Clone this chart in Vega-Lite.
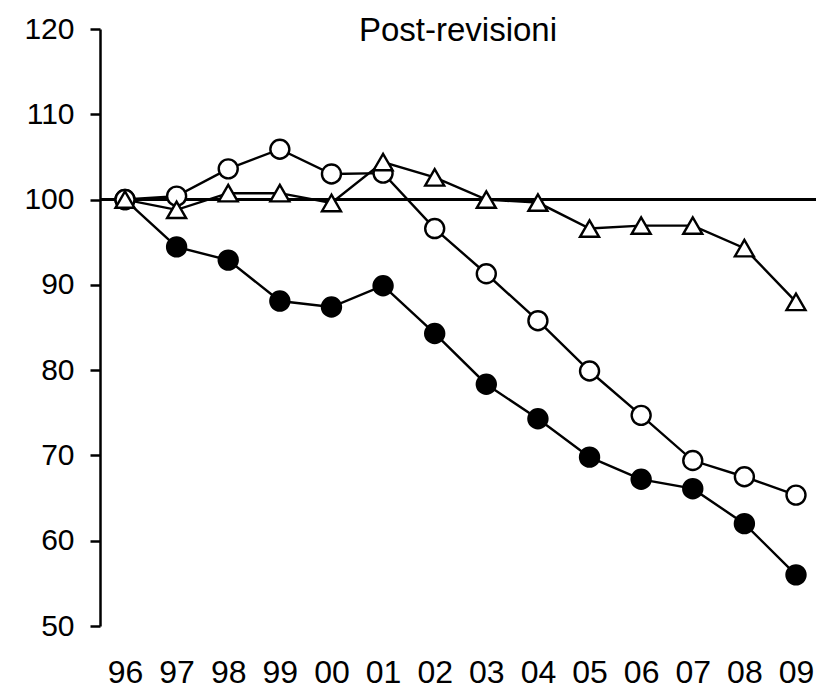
{
  "$schema": "https://vega.github.io/schema/vega-lite/v6.json",
  "width": 716,
  "height": 597,
  "autosize": {"type": "none"},
  "padding": {"left": 100, "top": 29, "right": 0, "bottom": 64},
  "background": "white",
  "config": {"view": {"stroke": null}, "font": "Liberation Sans"},
  "datasets": {
    "titles": [{"label": "Post-revisioni", "pos": 118.6}]
  },
  "data": {"values": [
    {"year": "96", "series": "filled", "value": 100},
    {"year": "97", "series": "filled", "value": 94.45},
    {"year": "98", "series": "filled", "value": 92.9},
    {"year": "99", "series": "filled", "value": 88.1},
    {"year": "00", "series": "filled", "value": 87.4},
    {"year": "01", "series": "filled", "value": 89.9},
    {"year": "02", "series": "filled", "value": 84.3},
    {"year": "03", "series": "filled", "value": 78.35},
    {"year": "04", "series": "filled", "value": 74.3},
    {"year": "05", "series": "filled", "value": 69.8},
    {"year": "06", "series": "filled", "value": 67.2},
    {"year": "07", "series": "filled", "value": 66.1},
    {"year": "08", "series": "filled", "value": 62.0},
    {"year": "09", "series": "filled", "value": 56.0},
    {"year": "96", "series": "open", "value": 100},
    {"year": "97", "series": "open", "value": 100.4},
    {"year": "98", "series": "open", "value": 103.6},
    {"year": "99", "series": "open", "value": 105.9},
    {"year": "00", "series": "open", "value": 103.0},
    {"year": "01", "series": "open", "value": 103.1},
    {"year": "02", "series": "open", "value": 96.6},
    {"year": "03", "series": "open", "value": 91.3},
    {"year": "04", "series": "open", "value": 85.8},
    {"year": "05", "series": "open", "value": 79.9},
    {"year": "06", "series": "open", "value": 74.7},
    {"year": "07", "series": "open", "value": 69.4},
    {"year": "08", "series": "open", "value": 67.5},
    {"year": "09", "series": "open", "value": 65.35},
    {"year": "96", "series": "triangle", "value": 100},
    {"year": "97", "series": "triangle", "value": 98.8},
    {"year": "98", "series": "triangle", "value": 100.75},
    {"year": "99", "series": "triangle", "value": 100.75},
    {"year": "00", "series": "triangle", "value": 99.6},
    {"year": "01", "series": "triangle", "value": 104.4},
    {"year": "02", "series": "triangle", "value": 102.6},
    {"year": "03", "series": "triangle", "value": 100.0},
    {"year": "04", "series": "triangle", "value": 99.65},
    {"year": "05", "series": "triangle", "value": 96.6},
    {"year": "06", "series": "triangle", "value": 96.95},
    {"year": "07", "series": "triangle", "value": 96.95},
    {"year": "08", "series": "triangle", "value": 94.3},
    {"year": "09", "series": "triangle", "value": 88.0}
  ]},
  "encoding": {
    "x": {"field": "year", "type": "ordinal",
      "scale": {"domain": ["96","97","98","99","00","01","02","03","04","05","06","07","08","09"], "range": [25, 696], "padding": 0},
      "axis": {"title": null, "domain": false, "ticks": false, "labelAngle": 0, "labelFontSize": 32, "labelFont": "Liberation Sans", "labelColor": "black", "labelPadding": 56, "labelBaseline": "alphabetic"}},
    "y": {"field": "value", "type": "quantitative",
      "scale": {"domain": [50, 120], "nice": false, "zero": false},
      "axis": {"title": null, "values": [50,60,70,80,90,100,110,120], "grid": false, "domainColor": "black", "domainWidth": 2.5, "tickColor": "black", "tickWidth": 2.5, "tickSize": 10, "labelFontSize": 30, "labelFont": "Liberation Sans", "labelColor": "black", "labelPadding": 16}}
  },
  "layer": [
    {"mark": {"type": "rule", "color": "black", "strokeWidth": 2.5},
     "encoding": {"x": null, "y": {"datum": 100, "type": "quantitative"}}},
    {"mark": {"type": "line", "color": "black", "strokeWidth": 2.4},
     "encoding": {"detail": {"field": "series"}, "order": {"value": null}}},
    {"mark": {"type": "point", "stroke": "black", "strokeWidth": 2.4, "opacity": 1, "filled": false},
     "encoding": {
       "shape": {"field": "series", "scale": {"domain": ["filled","open","triangle"], "range": ["circle","circle","triangle-up"]}, "legend": null},
       "fill": {"field": "series", "scale": {"domain": ["filled","open","triangle"], "range": ["black","white","white"]}, "legend": null},
       "size": {"field": "series", "scale": {"domain": ["filled","open","triangle"], "range": [361, 361, 340]}, "legend": null}
     }},
    {"data": {"name": "titles"},
     "mark": {"type": "text", "fontSize": 33, "font": "Liberation Sans", "color": "black", "align": "center", "baseline": "alphabetic"},
     "encoding": {"x": null, "y": {"field": "pos", "type": "quantitative"}, "text": {"field": "label"}}}
  ]
}
